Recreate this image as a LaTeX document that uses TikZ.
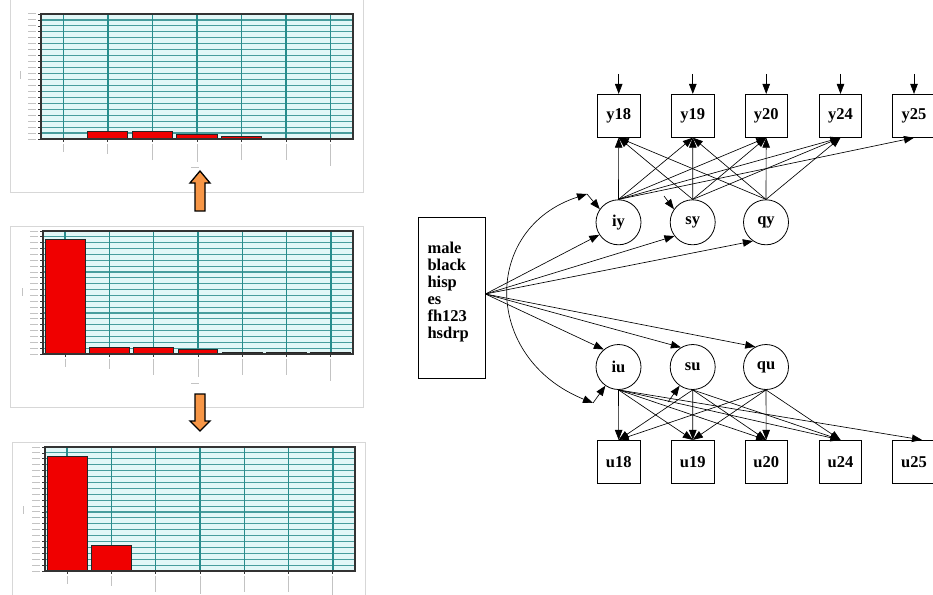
\documentclass[tikz,border=0pt]{standalone}
\usepackage{fontspec}
\setmainfont{Liberation Serif}
\usetikzlibrary{arrows.meta}

\definecolor{plotbg}{RGB}{226,247,247}
\definecolor{gridteal}{RGB}{40,140,140}
\definecolor{barred}{RGB}{240,0,0}
\definecolor{framegray}{RGB}{215,215,215}
\definecolor{blockorange}{RGB}{247,150,70}
\definecolor{labelgray}{RGB}{195,195,195}

% one bar chart: #1,#2 = upper left, #3,#4 = lower right, #5 = bar tops
\newcommand{\chartpanel}[5]{%
  \fill[plotbg] (#1,#2) rectangle (#3,#4);
  \foreach \k in {1,...,20}{%
    \pgfmathsetmacro{\yy}{#2+\k*(#4-#2)/21}
    \draw[gridh] (#1,\yy) -- (#3,\yy);
  }
  \foreach \k in {0,...,21}{%
    \pgfmathsetmacro{\yy}{#2+\k*(#4-#2)/21}
    \draw[tickmark] (#1-3,\yy) -- (#1,\yy);
    \draw[fuzzlabel] (#1-13,\yy) -- (#1-5,\yy);
  }
  \foreach \k/\len in {0/8,1/10,2/16,3/18,4/16,5/16,6/22}{%
    \pgfmathsetmacro{\xx}{#1+(\k+0.5)*(#3-#1)/7}
    \draw[gridv] (\xx,#2) -- (\xx,#4);
    \draw[tickmark] (\xx,#4) -- (\xx,#4+3);
    \draw[fuzzlabel] (\xx,#4+5) -- (\xx,#4+5+\len);
  }
  \foreach \t [count=\k from 0] in {#5}{%
    \pgfmathsetmacro{\xa}{#1+\k*(#3-#1)/7+2.2}
    \pgfmathsetmacro{\xb}{#1+(\k+1)*(#3-#1)/7-2.2}
    \draw[barbox] (\xa,\t) rectangle (\xb,#4);
  }
  \draw[plotframe] (#1,#2) rectangle (#3,#4);
}

\begin{document}
\begin{tikzpicture}[x=1pt,y=-1pt,
  labelfont/.style={font=\fontsize{16.5}{17}\selectfont\bfseries},
  obsbox/.style={draw, line width=0.8pt, minimum width=42.5pt, minimum height=43pt, inner sep=0pt, labelfont},
  latcirc/.style={draw, circle, line width=0.8pt, minimum size=45pt, inner sep=0pt, labelfont},
  regarrow/.style={line width=0.65pt, -{Triangle[length=10pt,width=7.5pt]}},
  covarrow/.style={line width=0.65pt, {Triangle[length=10pt,width=7.5pt]}-{Triangle[length=10pt,width=7.5pt]}},
  gridh/.style={gridteal!85, line width=1.1pt},
  gridv/.style={gridteal, line width=1.3pt},
  tickmark/.style={black!80, line width=0.8pt},
  fuzzlabel/.style={labelgray, line width=1pt},
  barbox/.style={fill=barred, draw=black!85, line width=0.9pt},
  plotframe/.style={draw=black!80, line width=1.3pt},
  panelframe/.style={draw=framegray, line width=0.8pt},
  blockarrow/.style={fill=blockorange, draw=black, line width=1.3pt, line join=miter},
]
\useasboundingbox (0,0) rectangle (933,594);

% ---------- frequency charts ----------
\draw[panelframe] (10,-5) rectangle (363,192);
\draw[panelframe] (10,226) rectangle (363,407);
\draw[panelframe] (12,442) rectangle (365,605);

\chartpanel{41}{14}{353}{139}{139,131,131,134,136.5,138,138}
\chartpanel{43}{231}{353}{354}{239,347,347,349.5,352.5,352.5,352.5}
\chartpanel{45}{447}{355}{571}{456,545,571,571,571,571,571}

% axis titles
\draw[fuzzlabel] (20,71) -- (20,79);
\draw[fuzzlabel] (191,167) -- (199,167);
\draw[fuzzlabel] (22,288) -- (22,296);
\draw[fuzzlabel] (191,383) -- (199,383);
\draw[fuzzlabel] (23,506) -- (23,514);

% block arrows between the charts
\draw[blockarrow] (195,211) -- (195,183) -- (190,183) -- (200,171) -- (210,183) -- (205,183) -- (205,211) -- cycle;
\draw[blockarrow] (195,394) -- (195,421) -- (190,421) -- (200,431) -- (210,421) -- (205,421) -- (205,394) -- cycle;

% ---------- path diagram ----------
\node[draw, line width=0.8pt, minimum width=66.7pt, minimum height=161pt, inner sep=0pt] (cov) at (451.7,297.8) {};
\node[labelfont, align=left, anchor=north west, inner sep=0pt] (covnames) at (427.3,241.5) {male\\black\\hisp\\es\\fh123\\hsdrp};
\coordinate (src) at ([yshift=3.8pt]cov.east);

\foreach \n/\x in {y18/618.7, y19/692.8, y20/766.2, y24/840.5, y25/914}{
  \node[obsbox] (\n) at (\x,115.8) {\n};
  \draw[regarrow] ([yshift=20pt]\n.north) -- (\n.north);
}
\foreach \n/\x in {u18/618.7, u19/692.8, u20/766.2, u24/840.5, u25/914}{
  \node[obsbox] (\n) at (\x,461.8) {\n};
}

\node[latcirc] (iy) at (618.5,222.3) {iy};
\node[latcirc] (sy) at (692.7,222.3) {sy};
\node[latcirc] (qy) at (766,222.3) {qy};
\node[latcirc] (iu) at (618.5,367) {iu};
\node[latcirc] (su) at (692.7,367) {su};
\node[latcirc] (qu) at (766,367) {qu};

% covariates to growth factors
\draw[regarrow] (src) -- (iy.213);
\draw[regarrow] (src) -- (sy.217);
\draw[regarrow] (src) -- (qy.235);
\draw[regarrow] (src) -- (iu.130);
\draw[regarrow] (src) -- (su.121);
\draw[regarrow] (src) -- (qu.118);

% factor loadings
\foreach \f in {iy,sy,qy}{
  \foreach \b in {y18,y19,y20,y24}{
    \draw[regarrow] (\f.north) -- (\b.south);
  }
}
\draw[regarrow] (iy.north) -- (y25.south);
\foreach \f in {iu,su,qu}{
  \foreach \b in {u18,u19,u20,u24}{
    \draw[regarrow] (\f.south) -- (\b.north);
  }
}
\draw[regarrow] (iu.south) -- (u25.70);

% residuals of the intercept and slope factors
\coordinate (eiy) at (587,194);
\coordinate (esy) at (664,196);
\coordinate (eiu) at (593,403);
\coordinate (esu) at (668,402);
\draw[regarrow] (eiy) -- (iy.145);
\draw[regarrow] (esy) -- (sy.145);
\draw[regarrow] (eiu) -- (iu.235);
\draw[regarrow] (esu) -- (su.235);

% residual covariance of the two intercepts
\draw[covarrow] (eiy) .. controls (482,228) and (482,358) .. (eiu);
\end{tikzpicture}
\end{document}
